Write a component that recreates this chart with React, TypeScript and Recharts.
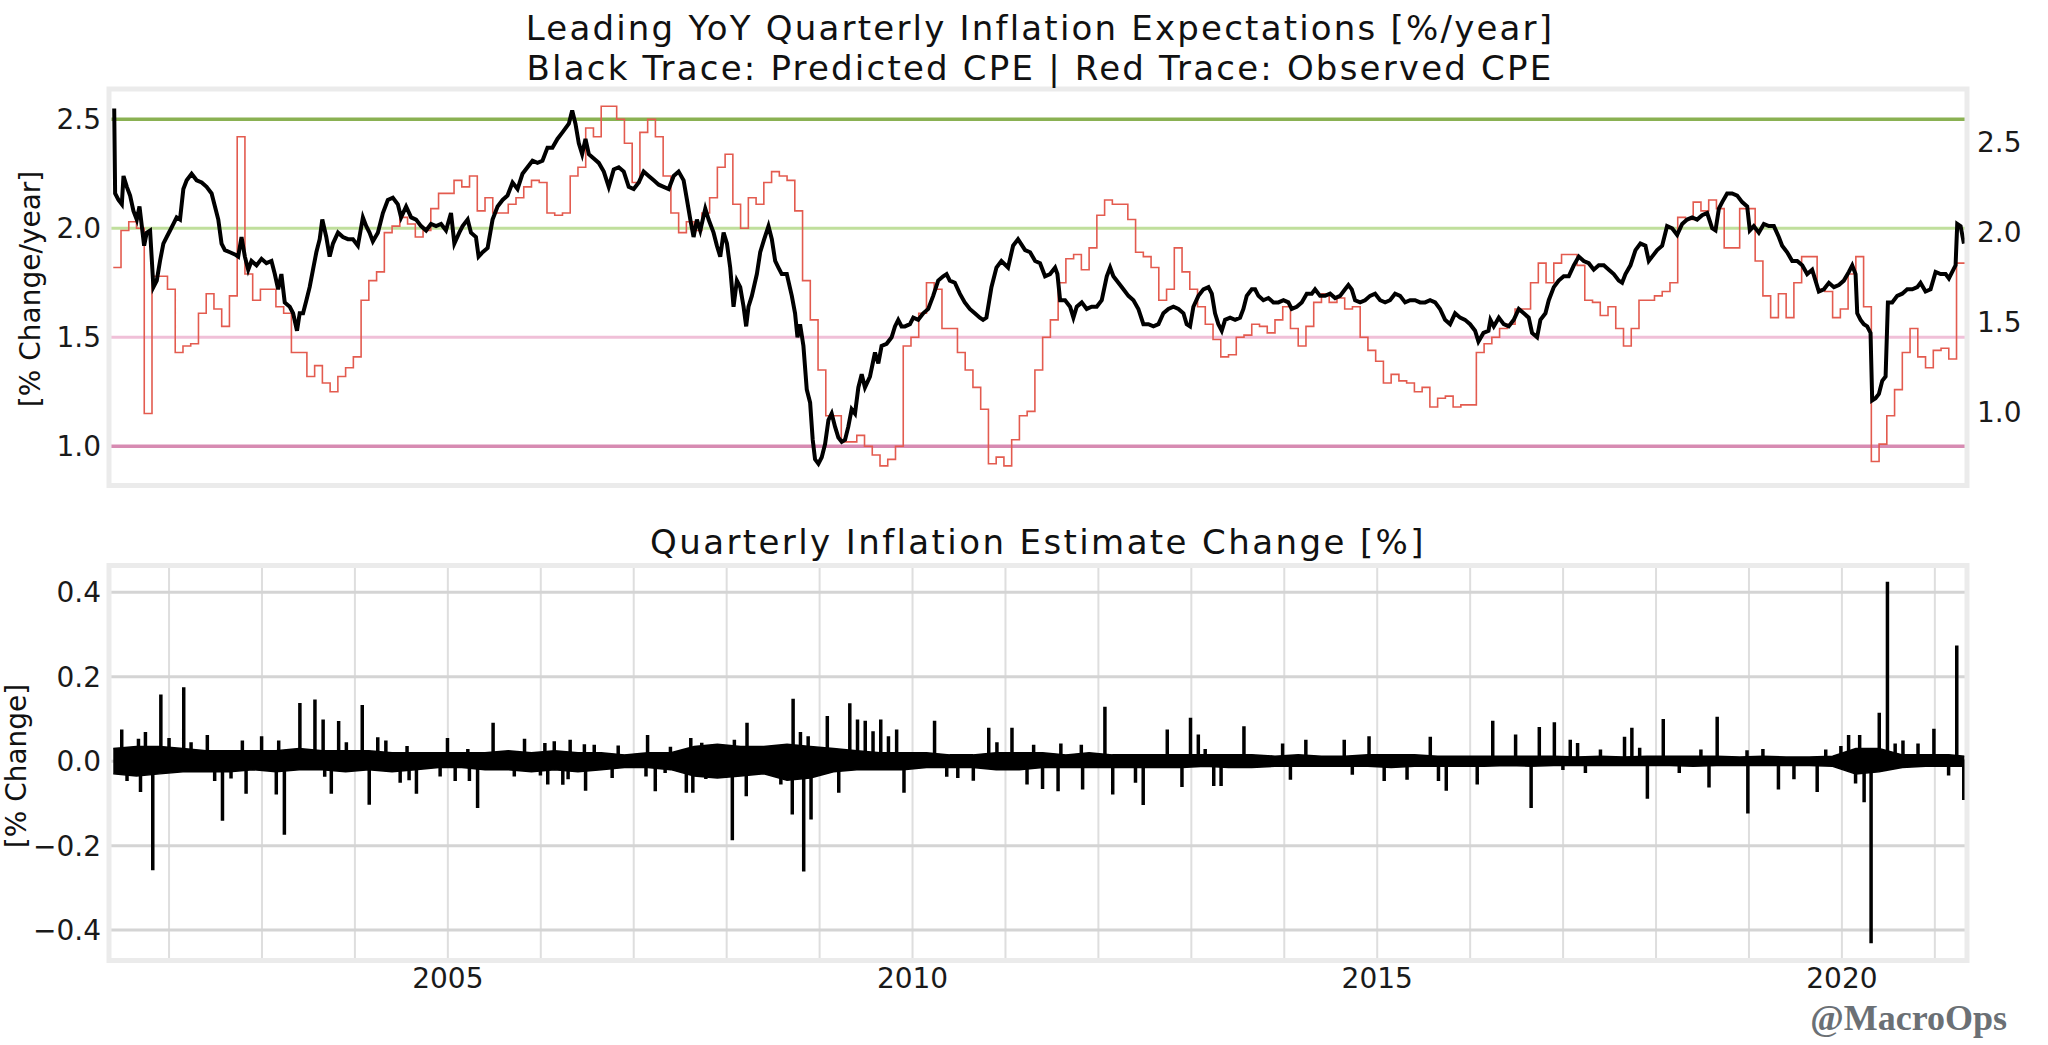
import React from "react";
import {
  ComposedChart,
  Line,
  Area,
  XAxis,
  YAxis,
  CartesianGrid,
  ReferenceLine,
} from "recharts";

// x axis is decimal years
const X_DOMAIN: [number, number] = [2001.354, 2021.346];
const YEAR_TICKS = [
  2002, 2003, 2004, 2005, 2006, 2007, 2008, 2009, 2010, 2011, 2012, 2013, 2014,
  2015, 2016, 2017, 2018, 2019, 2020, 2021,
];
const LABELED_YEARS = [2005, 2010, 2015, 2020];

const TOP_LEFT_DOMAIN: [number, number] = [0.82, 2.639];
const TOP_RIGHT_DOMAIN: [number, number] = [0.59, 2.794];
const TOP_TICKS = [1.0, 1.5, 2.0, 2.5];
const BOTTOM_DOMAIN: [number, number] = [-0.472, 0.4635];
const BOTTOM_TICKS = [-0.4, -0.2, 0, 0.2, 0.4];

// horizontal guide levels on the upper panel
const LEVELS = [
  { y: 2.5, color: "#8ab152", width: 3.5 },
  { y: 2.0, color: "#c0df9c", width: 3 },
  { y: 1.5, color: "#f0c0d8", width: 3 },
  { y: 1.0, color: "#d78bb2", width: 3.5 },
];

// predicted CPE (black trace), [year, %/year]
const predictedCpe: [number, number][] = [
  [2001.41, 2.55], [2001.42, 2.16], [2001.456, 2.13], [2001.492, 2.11], [2001.51, 2.24],
  [2001.546, 2.19], [2001.581, 2.15], [2001.617, 2.08], [2001.653, 2.04], [2001.682, 2.1],
  [2001.707, 2.01], [2001.732, 1.92], [2001.76, 1.98], [2001.796, 1.99], [2001.832, 1.73],
  [2001.868, 1.76], [2001.903, 1.85], [2001.939, 1.93], [2001.975, 1.96], [2002.011, 1.99],
  [2002.047, 2.02], [2002.082, 2.05], [2002.118, 2.04], [2002.154, 2.18], [2002.19, 2.22],
  [2002.243, 2.25], [2002.297, 2.22], [2002.351, 2.21], [2002.404, 2.19], [2002.458, 2.16],
  [2002.494, 2.1], [2002.53, 2.04], [2002.565, 1.93], [2002.601, 1.9], [2002.655, 1.89],
  [2002.708, 1.88], [2002.744, 1.87], [2002.78, 1.96], [2002.816, 1.87], [2002.852, 1.81],
  [2002.887, 1.85], [2002.941, 1.83], [2002.995, 1.86], [2003.048, 1.84], [2003.102, 1.85],
  [2003.138, 1.79], [2003.174, 1.72], [2003.209, 1.79], [2003.245, 1.66], [2003.299, 1.64],
  [2003.335, 1.61], [2003.377, 1.53], [2003.406, 1.61], [2003.442, 1.61], [2003.478, 1.67],
  [2003.513, 1.73], [2003.549, 1.81], [2003.585, 1.89], [2003.621, 1.95], [2003.649, 2.04],
  [2003.692, 1.96], [2003.728, 1.87], [2003.764, 1.93], [2003.818, 1.98], [2003.871, 1.96],
  [2003.925, 1.95], [2003.979, 1.95], [2004.032, 1.92], [2004.086, 2.05], [2004.122, 2.01],
  [2004.157, 1.98], [2004.193, 1.94], [2004.247, 1.98], [2004.301, 2.07], [2004.354, 2.13],
  [2004.408, 2.14], [2004.462, 2.11], [2004.497, 2.05], [2004.551, 2.1], [2004.605, 2.05],
  [2004.658, 2.04], [2004.712, 2.01], [2004.766, 1.99], [2004.819, 2.02], [2004.873, 2.01],
  [2004.927, 2.02], [2004.98, 1.99], [2005.034, 2.07], [2005.07, 1.93], [2005.123, 1.98],
  [2005.159, 2.01], [2005.213, 2.04], [2005.249, 1.98], [2005.302, 1.96], [2005.331, 1.87],
  [2005.374, 1.89], [2005.428, 1.91], [2005.481, 2.04], [2005.535, 2.1], [2005.589, 2.13],
  [2005.642, 2.15], [2005.696, 2.21], [2005.75, 2.18], [2005.803, 2.25], [2005.857, 2.28],
  [2005.911, 2.31], [2005.964, 2.3], [2006.018, 2.31], [2006.072, 2.37], [2006.125, 2.37],
  [2006.179, 2.41], [2006.233, 2.44], [2006.302, 2.48], [2006.338, 2.54], [2006.373, 2.48],
  [2006.409, 2.39], [2006.445, 2.34], [2006.481, 2.41], [2006.517, 2.34], [2006.57, 2.32],
  [2006.624, 2.3], [2006.678, 2.26], [2006.731, 2.19], [2006.785, 2.27], [2006.839, 2.28],
  [2006.893, 2.26], [2006.946, 2.19], [2007.0, 2.18], [2007.054, 2.21], [2007.107, 2.26],
  [2007.161, 2.24], [2007.215, 2.22], [2007.269, 2.2], [2007.322, 2.19], [2007.376, 2.18],
  [2007.43, 2.24], [2007.483, 2.26], [2007.537, 2.22], [2007.573, 2.13], [2007.609, 2.04],
  [2007.644, 1.96], [2007.68, 2.04], [2007.716, 1.99], [2007.77, 2.09], [2007.806, 2.04],
  [2007.859, 1.98], [2007.895, 1.92], [2007.931, 1.87], [2007.967, 1.98], [2008.003, 1.93],
  [2008.038, 1.82], [2008.074, 1.64], [2008.11, 1.76], [2008.146, 1.73], [2008.182, 1.64],
  [2008.21, 1.55], [2008.235, 1.64], [2008.271, 1.69], [2008.325, 1.79], [2008.361, 1.89],
  [2008.404, 1.95], [2008.45, 2.01], [2008.486, 1.95], [2008.522, 1.85], [2008.557, 1.82],
  [2008.593, 1.79], [2008.647, 1.79], [2008.701, 1.69], [2008.736, 1.61], [2008.762, 1.5],
  [2008.79, 1.56], [2008.826, 1.46], [2008.862, 1.26], [2008.898, 1.2], [2008.926, 1.03],
  [2008.951, 0.94], [2008.987, 0.92], [2009.023, 0.95], [2009.059, 1.01], [2009.095, 1.12],
  [2009.13, 1.15], [2009.166, 1.09], [2009.202, 1.04], [2009.238, 1.02], [2009.274, 1.03],
  [2009.309, 1.09], [2009.345, 1.17], [2009.381, 1.15], [2009.417, 1.27], [2009.453, 1.33],
  [2009.488, 1.27], [2009.542, 1.32], [2009.596, 1.43], [2009.632, 1.38], [2009.667, 1.46],
  [2009.721, 1.47], [2009.775, 1.5], [2009.811, 1.55], [2009.846, 1.58], [2009.882, 1.55],
  [2009.918, 1.55], [2009.972, 1.56], [2010.008, 1.59], [2010.061, 1.58], [2010.115, 1.61],
  [2010.169, 1.63], [2010.222, 1.69], [2010.276, 1.76], [2010.33, 1.78], [2010.366, 1.79],
  [2010.401, 1.76], [2010.455, 1.75], [2010.509, 1.7], [2010.562, 1.66], [2010.616, 1.63],
  [2010.67, 1.61], [2010.724, 1.59], [2010.759, 1.58], [2010.795, 1.59], [2010.849, 1.73],
  [2010.903, 1.82], [2010.956, 1.85], [2011.028, 1.82], [2011.082, 1.92], [2011.135, 1.95],
  [2011.211, 1.9], [2011.265, 1.89], [2011.319, 1.85], [2011.372, 1.84], [2011.426, 1.78],
  [2011.48, 1.79], [2011.534, 1.82], [2011.559, 1.79], [2011.588, 1.67], [2011.641, 1.67],
  [2011.695, 1.64], [2011.731, 1.59], [2011.767, 1.64], [2011.821, 1.66], [2011.874, 1.63],
  [2011.928, 1.64], [2011.982, 1.64], [2012.036, 1.67], [2012.09, 1.78], [2012.126, 1.82],
  [2012.161, 1.78], [2012.215, 1.75], [2012.269, 1.72], [2012.323, 1.69], [2012.377, 1.67],
  [2012.43, 1.63], [2012.484, 1.56], [2012.538, 1.56], [2012.592, 1.55], [2012.646, 1.56],
  [2012.699, 1.61], [2012.753, 1.63], [2012.807, 1.64], [2012.861, 1.63], [2012.915, 1.61],
  [2012.95, 1.56], [2012.986, 1.55], [2013.022, 1.64], [2013.076, 1.69], [2013.13, 1.72],
  [2013.184, 1.73], [2013.22, 1.7], [2013.255, 1.61], [2013.291, 1.56], [2013.327, 1.53],
  [2013.363, 1.58], [2013.417, 1.59], [2013.471, 1.58], [2013.524, 1.59], [2013.56, 1.63],
  [2013.596, 1.69], [2013.65, 1.72], [2013.686, 1.72], [2013.722, 1.69], [2013.775, 1.67],
  [2013.829, 1.68], [2013.883, 1.66], [2013.937, 1.66], [2013.991, 1.67], [2014.044, 1.66],
  [2014.08, 1.63], [2014.134, 1.64], [2014.188, 1.66], [2014.242, 1.7], [2014.296, 1.7],
  [2014.331, 1.72], [2014.385, 1.69], [2014.439, 1.69], [2014.493, 1.7], [2014.547, 1.68],
  [2014.6, 1.69], [2014.654, 1.72], [2014.69, 1.74], [2014.726, 1.72], [2014.762, 1.67],
  [2014.816, 1.66], [2014.869, 1.67], [2014.923, 1.69], [2014.977, 1.7], [2015.031, 1.67],
  [2015.085, 1.66], [2015.138, 1.67], [2015.192, 1.7], [2015.246, 1.69], [2015.3, 1.66],
  [2015.354, 1.67], [2015.407, 1.67], [2015.461, 1.66], [2015.515, 1.66], [2015.569, 1.67],
  [2015.623, 1.66], [2015.676, 1.63], [2015.73, 1.58], [2015.784, 1.56], [2015.838, 1.61],
  [2015.892, 1.59], [2015.945, 1.58], [2015.999, 1.56], [2016.053, 1.53], [2016.089, 1.48],
  [2016.143, 1.52], [2016.197, 1.53], [2016.218, 1.58], [2016.254, 1.55], [2016.308, 1.59],
  [2016.361, 1.56], [2016.415, 1.55], [2016.469, 1.58], [2016.523, 1.63], [2016.577, 1.61],
  [2016.63, 1.59], [2016.666, 1.52], [2016.72, 1.5], [2016.756, 1.58], [2016.81, 1.61],
  [2016.846, 1.67], [2016.9, 1.73], [2016.953, 1.76], [2017.007, 1.78], [2017.061, 1.78],
  [2017.115, 1.83], [2017.169, 1.87], [2017.222, 1.85], [2017.276, 1.84], [2017.33, 1.81],
  [2017.384, 1.83], [2017.438, 1.83], [2017.492, 1.81], [2017.545, 1.79], [2017.599, 1.76],
  [2017.635, 1.75], [2017.671, 1.79], [2017.725, 1.83], [2017.779, 1.9], [2017.832, 1.93],
  [2017.886, 1.92], [2017.922, 1.85], [2017.958, 1.87], [2018.012, 1.9], [2018.066, 1.92],
  [2018.119, 2.01], [2018.173, 2.0], [2018.227, 1.97], [2018.281, 2.02], [2018.335, 2.04],
  [2018.389, 2.05], [2018.442, 2.04], [2018.496, 2.06], [2018.55, 2.07], [2018.604, 2.0],
  [2018.64, 1.99], [2018.676, 2.09], [2018.712, 2.12], [2018.765, 2.16], [2018.819, 2.16],
  [2018.873, 2.15], [2018.927, 2.12], [2018.981, 2.1], [2019.009, 1.99], [2019.052, 2.01],
  [2019.106, 1.98], [2019.16, 2.02], [2019.214, 2.01], [2019.268, 2.01], [2019.321, 1.96],
  [2019.357, 1.92], [2019.411, 1.89], [2019.465, 1.85], [2019.519, 1.85], [2019.573, 1.83],
  [2019.626, 1.79], [2019.68, 1.81], [2019.716, 1.76], [2019.752, 1.71], [2019.806, 1.72],
  [2019.86, 1.75], [2019.914, 1.73], [2019.967, 1.74], [2020.021, 1.76], [2020.075, 1.8],
  [2020.111, 1.83], [2020.147, 1.79], [2020.165, 1.61], [2020.201, 1.58], [2020.236, 1.56],
  [2020.272, 1.55], [2020.308, 1.52], [2020.326, 1.21], [2020.362, 1.22], [2020.398, 1.24],
  [2020.434, 1.3], [2020.47, 1.32], [2020.495, 1.66], [2020.541, 1.66], [2020.595, 1.69],
  [2020.649, 1.7], [2020.703, 1.72], [2020.757, 1.72], [2020.811, 1.73], [2020.846, 1.75],
  [2020.9, 1.71], [2020.954, 1.72], [2021.008, 1.8], [2021.062, 1.79], [2021.116, 1.79],
  [2021.151, 1.77], [2021.187, 1.8], [2021.223, 1.83], [2021.241, 2.02], [2021.277, 2.01],
  [2021.313, 1.93],
];

// observed CPE (red trace), one value per month from May 2001
const OBSERVED_START = 2001.4;
const OBSERVED_END = 2021.324;
const observedCpe = [
  1.82, 1.99, 2.03, 2.0, 1.15, 1.78, 1.78, 1.72, 1.43, 1.46, 1.47, 1.61,
  1.7, 1.63, 1.55, 1.69, 2.42, 1.79, 1.67, 1.72, 1.72, 1.64, 1.61, 1.43,
  1.43, 1.32, 1.37, 1.29, 1.25, 1.32, 1.36, 1.41, 1.67, 1.76, 1.8, 1.98,
  2.01, 2.05, 2.02, 1.96, 1.99, 2.09, 2.16, 2.16, 2.22, 2.19, 2.24, 2.08,
  2.14, 2.07, 2.07, 2.11, 2.14, 2.19, 2.22, 2.21, 2.07, 2.06, 2.07, 2.24,
  2.28, 2.46, 2.42, 2.56, 2.56, 2.5, 2.39, 2.21, 2.44, 2.5, 2.42, 2.24,
  2.07, 1.98, 2.03, 1.99, 2.07, 2.14, 2.28, 2.34, 2.11, 2.0, 2.14, 2.11,
  2.21, 2.26, 2.24, 2.22, 2.08, 1.76, 1.58, 1.35, 1.14, 1.14, 1.02, 1.02,
  1.05, 1.0, 0.96, 0.91, 0.94, 1.0, 1.46, 1.5, 1.61, 1.75, 1.72, 1.54,
  1.54, 1.43, 1.35, 1.27, 1.17, 0.92, 0.95, 0.91, 1.03, 1.14, 1.16, 1.35,
  1.5, 1.58, 1.75, 1.86, 1.88, 1.81, 1.91, 2.06, 2.13, 2.11, 2.11, 2.04,
  1.89, 1.87, 1.82, 1.67, 1.72, 1.91, 1.8, 1.72, 1.64, 1.56, 1.49, 1.41,
  1.42, 1.5, 1.51, 1.56, 1.55, 1.52, 1.58, 1.64, 1.54, 1.46, 1.55, 1.66,
  1.7, 1.66, 1.68, 1.63, 1.64, 1.5, 1.44, 1.39, 1.29, 1.33, 1.3, 1.29,
  1.25, 1.27, 1.18, 1.22, 1.23, 1.18, 1.19, 1.19, 1.43, 1.47, 1.5, 1.54,
  1.56, 1.63, 1.63, 1.75, 1.84, 1.75, 1.84, 1.88, 1.88, 1.83, 1.67, 1.66,
  1.6, 1.64, 1.54, 1.46, 1.54, 1.67, 1.67, 1.69, 1.71, 1.75, 2.05, 2.04,
  2.12, 2.08, 2.13, 2.09, 1.91, 1.91, 2.09, 2.09, 1.85, 1.69, 1.59, 1.7,
  1.59, 1.75, 1.87, 1.87, 1.72, 1.71, 1.59, 1.63, 1.79, 1.87, 1.64, 0.93,
  1.01, 1.14, 1.26, 1.43, 1.54, 1.41, 1.36, 1.44, 1.45, 1.4, 1.84,
];

// lower panel: the dense day-to-day band, [year, low, high]
const changeBand: [number, number, number][] = [
  [2001.4, -0.03, 0.03], [2001.65, -0.035, 0.035], [2001.9, -0.03, 0.035], [2002.15, -0.025, 0.03],
  [2002.4, -0.025, 0.025], [2002.65, -0.025, 0.025], [2002.9, -0.02, 0.025], [2003.15, -0.025, 0.025],
  [2003.4, -0.02, 0.03], [2003.65, -0.02, 0.025], [2003.9, -0.025, 0.025], [2004.15, -0.02, 0.025],
  [2004.4, -0.025, 0.02], [2004.65, -0.02, 0.02], [2004.9, -0.015, 0.02], [2005.15, -0.015, 0.02],
  [2005.4, -0.02, 0.02], [2005.65, -0.02, 0.025], [2005.9, -0.025, 0.02], [2006.15, -0.02, 0.025],
  [2006.4, -0.025, 0.02], [2006.65, -0.02, 0.02], [2006.9, -0.015, 0.015], [2007.15, -0.015, 0.02],
  [2007.4, -0.02, 0.02], [2007.65, -0.035, 0.035], [2007.9, -0.04, 0.04], [2008.15, -0.035, 0.035],
  [2008.4, -0.03, 0.035], [2008.65, -0.045, 0.04], [2008.9, -0.04, 0.035], [2009.15, -0.025, 0.03],
  [2009.4, -0.02, 0.025], [2009.65, -0.02, 0.02], [2009.9, -0.02, 0.02], [2010.15, -0.015, 0.02],
  [2010.4, -0.015, 0.015], [2010.65, -0.015, 0.015], [2010.9, -0.02, 0.02], [2011.15, -0.02, 0.02],
  [2011.4, -0.015, 0.02], [2011.65, -0.015, 0.015], [2011.9, -0.015, 0.02], [2012.15, -0.015, 0.015],
  [2012.4, -0.015, 0.015], [2012.65, -0.015, 0.015], [2012.9, -0.015, 0.015], [2013.15, -0.012, 0.015],
  [2013.4, -0.015, 0.015], [2013.65, -0.015, 0.015], [2013.9, -0.012, 0.012], [2014.15, -0.012, 0.015],
  [2014.4, -0.012, 0.012], [2014.65, -0.012, 0.012], [2014.9, -0.012, 0.015], [2015.15, -0.015, 0.015],
  [2015.4, -0.012, 0.015], [2015.65, -0.012, 0.012], [2015.9, -0.012, 0.012], [2016.15, -0.012, 0.012],
  [2016.4, -0.01, 0.012], [2016.65, -0.012, 0.012], [2016.9, -0.01, 0.012], [2017.15, -0.01, 0.01],
  [2017.4, -0.01, 0.012], [2017.65, -0.01, 0.01], [2017.9, -0.01, 0.012], [2018.15, -0.01, 0.012],
  [2018.4, -0.012, 0.012], [2018.65, -0.01, 0.012], [2018.9, -0.01, 0.01], [2019.15, -0.01, 0.012],
  [2019.4, -0.01, 0.01], [2019.65, -0.01, 0.01], [2019.9, -0.012, 0.012], [2020.15, -0.03, 0.03],
  [2020.4, -0.025, 0.03], [2020.65, -0.015, 0.015], [2020.9, -0.012, 0.015], [2021.15, -0.012, 0.015],
  [2021.32, -0.012, 0.012],
];

// lower panel: isolated jumps, [year, % change]
const upJumps: [number, number][] = [
  [2001.491, 0.075], [2001.671, 0.053], [2001.746, 0.069], [2001.912, 0.158], [2002.0, 0.055],
  [2002.158, 0.175], [2002.237, 0.045], [2002.412, 0.062], [2002.789, 0.049], [2002.996, 0.059],
  [2003.18, 0.049], [2003.408, 0.138], [2003.57, 0.146], [2003.658, 0.099], [2003.825, 0.095],
  [2003.908, 0.045], [2004.079, 0.133], [2004.246, 0.057], [2004.333, 0.049], [2004.561, 0.036],
  [2004.996, 0.055], [2005.215, 0.029], [2005.487, 0.091], [2005.825, 0.053], [2006.044, 0.043],
  [2006.145, 0.047], [2006.316, 0.051], [2006.469, 0.04], [2006.575, 0.039], [2006.833, 0.037],
  [2007.149, 0.062], [2007.395, 0.034], [2007.614, 0.055], [2007.732, 0.044], [2008.083, 0.051],
  [2008.219, 0.091], [2008.715, 0.148], [2008.794, 0.069], [2008.877, 0.059], [2009.083, 0.107],
  [2009.325, 0.137], [2009.408, 0.099], [2009.491, 0.096], [2009.575, 0.071], [2009.658, 0.099],
  [2009.741, 0.059], [2009.829, 0.075], [2010.237, 0.096], [2010.82, 0.079], [2010.908, 0.045],
  [2011.07, 0.079], [2011.303, 0.039], [2011.596, 0.042], [2011.816, 0.039], [2012.07, 0.129],
  [2012.741, 0.075], [2012.991, 0.103], [2013.075, 0.063], [2013.149, 0.029], [2013.566, 0.083],
  [2013.982, 0.042], [2014.232, 0.051], [2014.645, 0.051], [2014.912, 0.059], [2015.571, 0.058],
  [2016.243, 0.096], [2016.489, 0.063], [2016.744, 0.081], [2016.906, 0.092], [2017.077, 0.051],
  [2017.156, 0.043], [2017.402, 0.028], [2017.661, 0.058], [2017.74, 0.079], [2017.824, 0.032],
  [2018.078, 0.1], [2018.483, 0.028], [2018.658, 0.105], [2018.979, 0.026], [2019.15, 0.029],
  [2019.826, 0.028], [2019.989, 0.036], [2020.072, 0.062], [2020.191, 0.062], [2020.402, 0.115],
  [2020.49, 0.425], [2020.573, 0.042], [2020.657, 0.049], [2020.819, 0.042], [2020.99, 0.077],
  [2021.236, 0.274],
];

const downJumps: [number, number][] = [
  [2001.548, -0.047], [2001.693, -0.073], [2001.825, -0.258], [2002.491, -0.047], [2002.575, -0.141],
  [2002.667, -0.041], [2002.829, -0.077], [2003.154, -0.079], [2003.241, -0.174], [2003.675, -0.037],
  [2003.746, -0.077], [2004.154, -0.103], [2004.487, -0.051], [2004.583, -0.045], [2004.662, -0.077],
  [2004.917, -0.036], [2005.079, -0.047], [2005.232, -0.047], [2005.32, -0.111], [2005.715, -0.036],
  [2005.996, -0.034], [2006.075, -0.055], [2006.237, -0.056], [2006.294, -0.043], [2006.482, -0.07],
  [2006.768, -0.04], [2007.132, -0.036], [2007.232, -0.071], [2007.338, -0.028], [2007.566, -0.075],
  [2007.636, -0.075], [2007.776, -0.042], [2008.061, -0.187], [2008.211, -0.083], [2008.583, -0.055],
  [2008.706, -0.126], [2008.829, -0.261], [2008.908, -0.138], [2009.206, -0.075], [2009.908, -0.075],
  [2010.368, -0.037], [2010.487, -0.04], [2010.654, -0.046], [2011.232, -0.055], [2011.399, -0.066],
  [2011.566, -0.071], [2011.83, -0.067], [2012.154, -0.079], [2012.399, -0.051], [2012.482, -0.104],
  [2012.899, -0.061], [2013.241, -0.059], [2013.32, -0.059], [2014.066, -0.044], [2014.732, -0.032],
  [2015.075, -0.047], [2015.321, -0.044], [2015.659, -0.047], [2015.743, -0.07], [2016.076, -0.055],
  [2016.656, -0.111], [2016.998, -0.021], [2017.24, -0.028], [2017.907, -0.089], [2018.25, -0.028],
  [2018.57, -0.062], [2018.988, -0.124], [2019.317, -0.067], [2019.484, -0.043], [2019.734, -0.073],
  [2020.147, -0.053], [2020.239, -0.097], [2020.314, -0.431], [2021.148, -0.034], [2021.311, -0.092],
];

const FONT = "'DejaVu Sans', sans-serif";
const TICK_STYLE = { fill: "#1a1a1a", fontSize: 28, fontFamily: FONT };

const predictedRows = predictedCpe.map(([t, v]) => ({ t, v }));
const observedRows = [
  ...observedCpe.map((v, i) => ({ t: OBSERVED_START + i / 12, v })),
  { t: OBSERVED_END, v: observedCpe[observedCpe.length - 1] },
];
const bandRows = changeBand.map(([t, lo, hi]) => ({ t, range: [lo, hi] }));
// each jump is drawn as a vertical stroke out of the zero line and back
const jumpRows = [...upJumps, ...downJumps]
  .sort((a, b) => a[0] - b[0])
  .flatMap(([t, v]) => [
    { t, v: 0 },
    { t, v },
    { t, v: 0 },
  ]);

const fmtTop = (v: number) => v.toFixed(1);
const fmtBottom = (v: number) =>
  v < 0 ? "\u2212" + Math.abs(v).toFixed(1) : v.toFixed(1);
const fmtYear = (v: number) => (LABELED_YEARS.includes(v) ? String(v) : "");

function TopPanel() {
  return (
    <ComposedChart
      width={2048}
      height={520}
      margin={{ top: 89, right: 0, bottom: 34.5, left: 0 }}
    >
      <CartesianGrid horizontal={false} stroke="#dedede" strokeWidth={2} />
      <XAxis
        type="number"
        dataKey="t"
        domain={X_DOMAIN}
        ticks={YEAR_TICKS}
        allowDataOverflow
        height={0}
        tick={false}
        axisLine={false}
        tickLine={false}
      />
      <YAxis
        yAxisId="left"
        type="number"
        domain={TOP_LEFT_DOMAIN}
        ticks={TOP_TICKS}
        allowDataOverflow
        width={109}
        axisLine={false}
        tickLine={false}
        tickSize={0}
        tickMargin={8}
        tick={TICK_STYLE}
        tickFormatter={fmtTop}
      />
      <YAxis
        yAxisId="right"
        orientation="right"
        type="number"
        domain={TOP_RIGHT_DOMAIN}
        ticks={TOP_TICKS}
        allowDataOverflow
        width={81}
        axisLine={false}
        tickLine={false}
        tickSize={0}
        tickMargin={10}
        tick={TICK_STYLE}
        tickFormatter={fmtTop}
      />
      {LEVELS.map((l) => (
        <ReferenceLine
          key={l.y}
          yAxisId="left"
          y={l.y}
          stroke={l.color}
          strokeWidth={l.width}
        />
      ))}
      <Line
        yAxisId="left"
        data={observedRows}
        dataKey="v"
        type="stepAfter"
        stroke="#e35b4f"
        strokeWidth={1.6}
        dot={false}
        isAnimationActive={false}
      />
      <Line
        yAxisId="left"
        data={predictedRows}
        dataKey="v"
        type="linear"
        stroke="#000000"
        strokeWidth={4}
        dot={false}
        isAnimationActive={false}
      />
    </ComposedChart>
  );
}

function BottomPanel() {
  return (
    <ComposedChart
      width={2048}
      height={525}
      data={bandRows}
      margin={{ top: 45.5, right: 81, bottom: 34.5, left: 0 }}
    >
      <CartesianGrid horizontal={false} stroke="#dedede" strokeWidth={2} />
      <CartesianGrid vertical={false} stroke="#d4d4d4" strokeWidth={3} />
      <XAxis
        type="number"
        dataKey="t"
        domain={X_DOMAIN}
        ticks={YEAR_TICKS}
        allowDataOverflow
        height={50}
        axisLine={false}
        tickLine={false}
        tickSize={0}
        tickMargin={8}
        tick={TICK_STYLE}
        tickFormatter={fmtYear}
        interval={0}
      />
      <YAxis
        type="number"
        domain={BOTTOM_DOMAIN}
        ticks={BOTTOM_TICKS}
        allowDataOverflow
        width={109}
        axisLine={false}
        tickLine={false}
        tickSize={0}
        tickMargin={8}
        tick={TICK_STYLE}
        tickFormatter={fmtBottom}
      />
      <Area
        dataKey="range"
        type="linear"
        stroke="#000000"
        strokeWidth={1.5}
        fill="#000000"
        fillOpacity={1}
        isAnimationActive={false}
      />
      <Line
        data={jumpRows}
        dataKey="v"
        type="linear"
        stroke="#000000"
        strokeWidth={3.5}
        dot={false}
        isAnimationActive={false}
      />
    </ComposedChart>
  );
}

export default function App() {
  return (
    <div
      style={{
        position: "fixed",
        left: 0,
        top: 0,
        width: 2048,
        height: 1045,
        background: "#ffffff",
        overflow: "hidden",
        fontFamily: FONT,
      }}
    >
      <div style={{ position: "absolute", left: 0, top: 0 }}>
        <TopPanel />
      </div>
      <div style={{ position: "absolute", left: 0, top: 520 }}>
        <BottomPanel />
      </div>
      <svg
        width={2048}
        height={1045}
        style={{ position: "absolute", left: 0, top: 0, pointerEvents: "none" }}
      >
        <rect x={109} y={89} width={1858} height={396.5} fill="none" stroke="#ebebeb" strokeWidth={5} />
        <rect x={109} y={565.5} width={1858} height={395} fill="none" stroke="#ebebeb" strokeWidth={5} />
        <g fontFamily={FONT} fill="#111111" textAnchor="middle">
          <text x={1040} y={39.5} fontSize={34} letterSpacing={2.2}>
            Leading YoY Quarterly Inflation Expectations [%/year]
          </text>
          <text x={1040} y={79.5} fontSize={34} letterSpacing={2.2}>
            Black Trace: Predicted CPE | Red Trace: Observed CPE
          </text>
          <text x={1038} y={553.5} fontSize={34} letterSpacing={2.4}>
            Quarterly Inflation Estimate Change [%]
          </text>
          <text x={30} y={289} fontSize={28} dominantBaseline="central" transform="rotate(-90 30 289)">
            [% Change/year]
          </text>
          <text x={16} y={766} fontSize={28} dominantBaseline="central" transform="rotate(-90 16 766)">
            [% Change]
          </text>
        </g>
        <text
          x={2007}
          y={1030}
          textAnchor="end"
          fontFamily="'Liberation Serif', serif"
          fontWeight="bold"
          fontSize={36}
          fill="#6b7075"
        >
          @MacroOps
        </text>
      </svg>
    </div>
  );
}
